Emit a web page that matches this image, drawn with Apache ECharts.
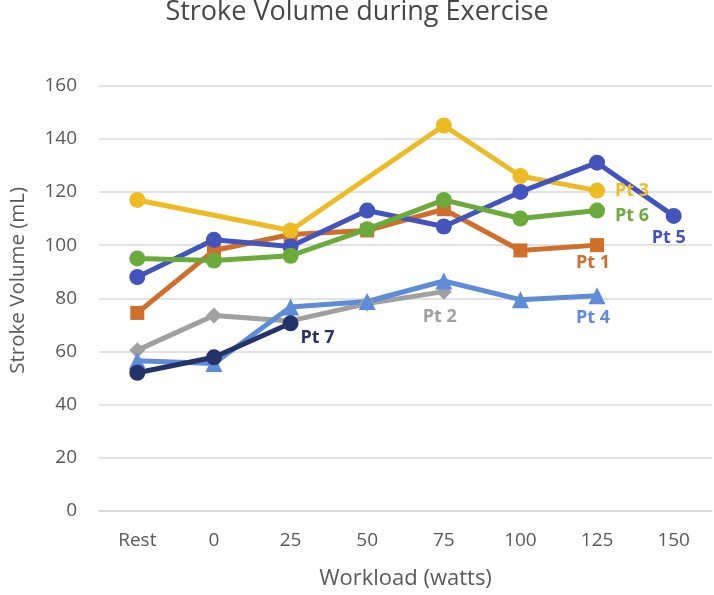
<!DOCTYPE html>
<html>
<head>
<meta charset="utf-8">
<script src="https://cdn.jsdelivr.net/npm/echarts@6/dist/echarts.min.js"></script>
<style>
html,body{margin:0;padding:0;background:#fff;}
#chart{width:714px;height:595px;}
</style>
</head>
<body>
<div id="chart"></div>
<script>
const categories = ['Rest', '0', '25', '50', '75', '100', '125', '150'];
const pt1 = [74.5, 98, 104, 105.5, 113.5, 98, 100, null];
const pt2 = [60.5, 73.5, 71.5, 78, 82.5, null, null, null];
const pt3 = [117, null, 105.5, null, 145, 126, 120.5, null];
const pt4 = [56.5, 55.5, 76.7, 78.8, 86.5, 79.5, 81, null];
const pt5 = [88, 102, 99.5, 113, 107, 120, 131, 111];
const pt6 = [95, 94.2, 96, 106, 117, 110, 113, null];
const pt7 = [52, 57.8, 70.6, null, null, null, null, null];
const yTicks = {min: 0, max: 160, interval: 20};

const FONT = 'Open Sans';

function lastIndex(arr) {
  for (let i = arr.length - 1; i >= 0; i--) if (arr[i] !== null) return i;
  return -1;
}

function makeSeries(name, values, color, symbol, symbolSize, labelOpt) {
  const li = lastIndex(values);
  const data = values.map((v, i) => {
    if (v === null) return '-';
    if (i === li) {
      return {value: v, label: Object.assign({
        show: true, formatter: name, color: color,
        fontFamily: FONT, fontWeight: 'bold', fontSize: 18
      }, labelOpt)};
    }
    return v;
  });
  return {
    name: name, type: 'line', data: data,
    connectNulls: true,
    symbol: symbol, symbolSize: symbolSize,
    showAllSymbol: true,
    lineStyle: {color: color, width: 5},
    itemStyle: {color: color},
    emphasis: {disabled: true},
    z: 2
  };
}

const chart = echarts.init(document.getElementById('chart'), null, {renderer: 'canvas'});
chart.setOption({
  animation: false,
  backgroundColor: '#ffffff',
  title: {
    text: 'Stroke Volume during Exercise',
    left: 'center', top: -6,
    textStyle: {fontFamily: FONT, fontWeight: 'normal', fontSize: 27, color: '#474747'}
  },
  grid: {left: 92, right: 2, top: 85.6, bottom: 81.4, containLabel: false},
  xAxis: {
    type: 'category', data: categories, boundaryGap: true,
    axisLine: {show: true, lineStyle: {color: '#d9d9d9', width: 1.5}},
    axisTick: {show: false},
    axisLabel: {fontFamily: FONT, fontSize: 19, color: '#595959', margin: 20},
    name: 'Workload (watts)', nameLocation: 'middle', nameGap: 57,
    nameTextStyle: {fontFamily: FONT, fontSize: 22, color: '#595959'}
  },
  yAxis: {
    type: 'value', min: yTicks.min, max: yTicks.max, interval: yTicks.interval,
    axisLine: {show: false}, axisTick: {show: false},
    splitLine: {lineStyle: {color: '#d9d9d9', width: 1.5}},
    axisLabel: {fontFamily: FONT, fontSize: 19, color: '#595959', margin: 22},
    name: 'Stroke Volume (mL)', nameLocation: 'middle', nameGap: 70,
    nameTextStyle: {fontFamily: FONT, fontSize: 20.5, color: '#595959', padding: [0, 0, 0, 36]}
  },
  series: [
    makeSeries('Pt 1', pt1, '#D06F2C', 'rect', 14, {position: 'bottom', distance: 2, offset: [-4, 0]}),
    makeSeries('Pt 2', pt2, '#A0A0A0', 'diamond', 16, {position: 'bottom', distance: 8, offset: [-4, 0]}),
    makeSeries('Pt 3', pt3, '#EDBB23', 'circle', 16, {position: 'right', distance: 10}),
    makeSeries('Pt 4', pt4, '#5E8CD8', 'triangle', 17, {position: 'bottom', distance: 5, offset: [-4, 0]}),
    makeSeries('Pt 5', pt5, '#4355BD', 'circle', 16, {position: 'bottom', distance: 5, offset: [-5, 0]}),
    makeSeries('Pt 6', pt6, '#6AAB3B', 'circle', 16, {position: 'right', distance: 10, offset: [0, 5]}),
    makeSeries('Pt 7', pt7, '#25336B', 'circle', 16, {position: 'right', distance: 2, offset: [0, 15]})
  ]
});
</script>
</body>
</html>
